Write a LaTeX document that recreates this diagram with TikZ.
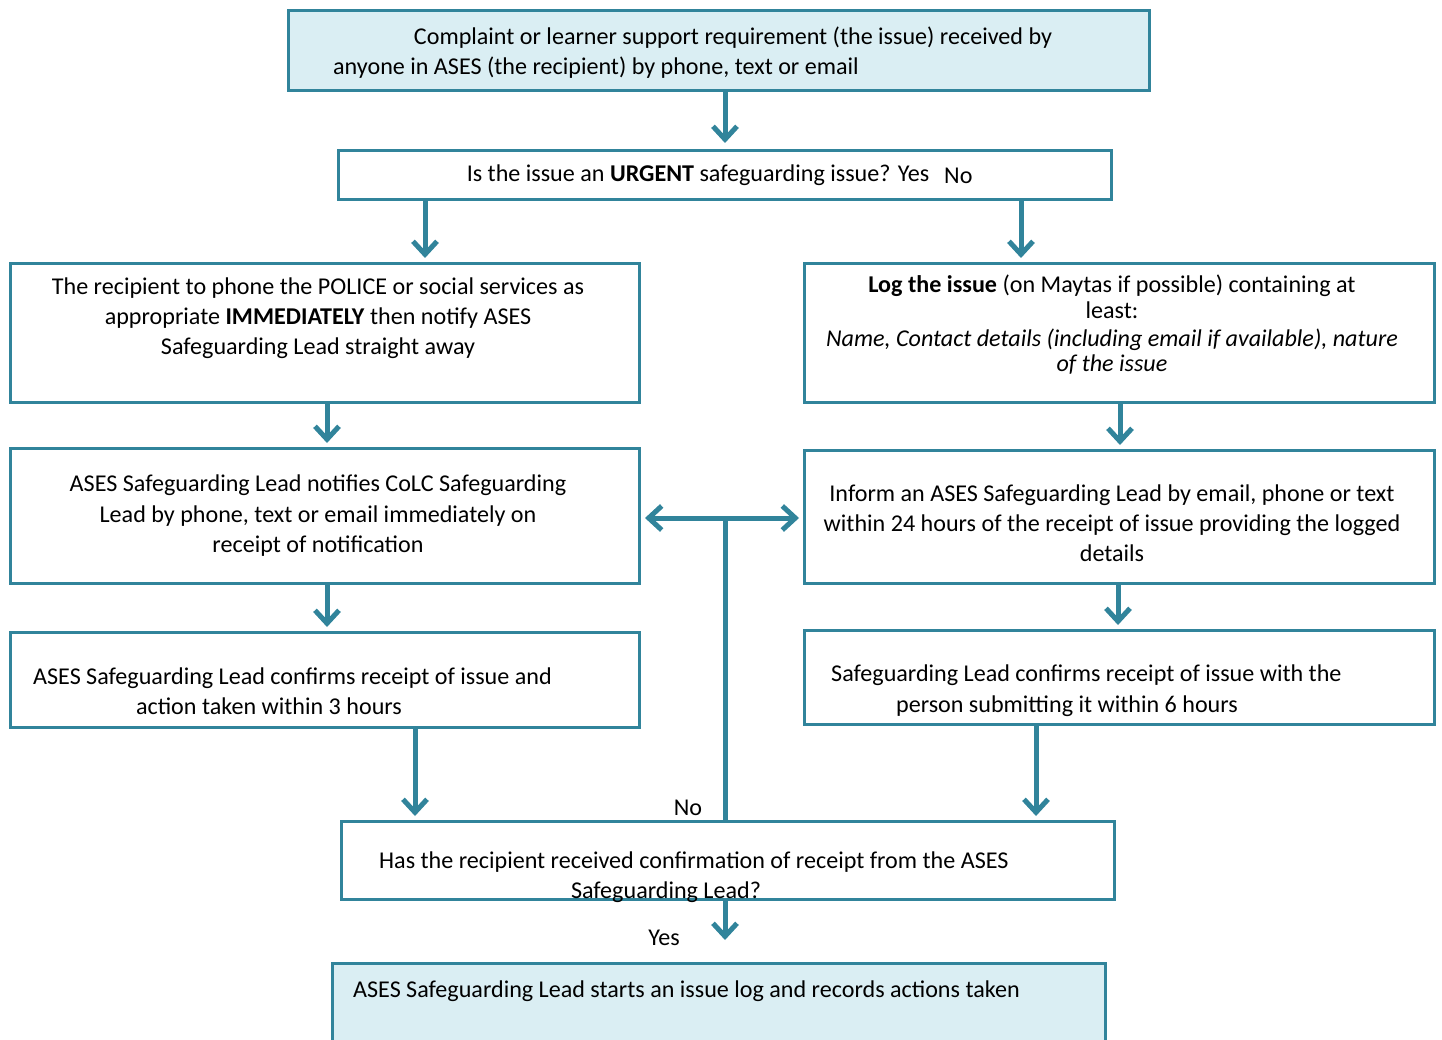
\documentclass[tikz,border=0pt]{standalone}
\usepackage{fontspec}
\setmainfont{Carlito}
\usetikzlibrary{arrows.meta}
\definecolor{bord}{HTML}{31849B}
\definecolor{lightfill}{HTML}{DAEEF3}
\tikzset{
  x=1pt, y=-1pt,
  box/.style={draw=bord, line width=3pt, inner sep=0pt, minimum width=#1},
  fbox/.style={box=#1, fill=lightfill},
  txt/.style={inner sep=0pt, anchor=base, font=\fontsize{24.1}{28}\selectfont},
  txtw/.style={txt, anchor=base west},
  arr/.style={draw=bord, line width=5pt, -{Straight Barb[length=13pt,width=24pt]}},
  arrb/.style={draw=bord, line width=5pt, {Straight Barb[length=13pt,width=24pt]}-{Straight Barb[length=13pt,width=24pt]}},
  ln/.style={draw=bord, line width=5pt},
}
\begin{document}
\begin{tikzpicture}
\useasboundingbox (0,0) rectangle (1442,1040);
% boxes
\node[fbox=861pt, minimum height=80pt] (top) at (719,50.5) {};
\node[box=773pt, minimum height=49pt] (dec) at (725,175) {};
\node[box=629pt, minimum height=139pt] (A) at (325,333) {};
\node[box=630pt, minimum height=139pt] (B) at (1119.5,333) {};
\node[box=629pt, minimum height=135pt] (C) at (325,516) {};
\node[box=630pt, minimum height=133pt] (D) at (1119.5,517) {};
\node[box=629pt, minimum height=95pt] (E) at (325,680) {};
\node[box=630pt, minimum height=94pt] (F) at (1119.5,677.5) {};
\node[box=773pt, minimum height=78pt] (dec2) at (728,860.5) {};
\node[fbox=773pt, minimum height=86.5pt] (bot) at (719,1006.75) {};
% texts
\node[txt] (t1) at (733,45) {Complaint or learner support requirement (the issue) received by};
\node[txtw] (t2) at (333,75) {anyone in ASES (the recipient) by phone, text or email};
\node[txt] (d1) at (698,182) {Is the issue an \textbf{URGENT} safeguarding issue? Yes};
\node[txtw] (d2) at (944,184) {No};
\node[txt] (a1) at (318,295) {The recipient to phone the POLICE or social services as};
\node[txt] (a2) at (318,325) {appropriate \textbf{IMMEDIATELY} then notify ASES};
\node[txt] (a3) at (318,355) {Safeguarding Lead straight away};
\node[txt] (b1) at (1112,293) {\textbf{Log the issue} (on Maytas if possible) containing at};
\node[txt] (b2) at (1112,319) {least:};
\node[txt] (b3) at (1112,346) {\itshape Name, Contact details (including email if available), nature};
\node[txt] (b4) at (1112,371) {\itshape of the issue};
\node[txt] (c1) at (318,491) {ASES Safeguarding Lead notifies CoLC Safeguarding};
\node[txt] (c2) at (318,522) {Lead by phone, text or email immediately on};
\node[txt] (c3) at (318,552) {receipt of notification};
\node[txt] (e1) at (1112,501) {Inform an ASES Safeguarding Lead by email, phone or text};
\node[txt] (e2) at (1112,531) {within 24 hours of the receipt of issue providing the logged};
\node[txt] (e3) at (1112,561) {details};
\node[txtw] (f1) at (33,684) {ASES Safeguarding Lead confirms receipt of issue and};
\node[txt] (f2) at (269,714) {action taken within 3 hours};
\node[txtw] (g1) at (831,681) {Safeguarding Lead confirms receipt of issue with the};
\node[txt] (g2) at (1067,712) {person submitting it within 6 hours};
\node[txtw] (h1) at (379,868) {Has the recipient received confirmation of receipt from the ASES};
\node[txt] (h2) at (666,898) {Safeguarding Lead?};
\node[txt] (no) at (688,815) {No};
\node[txt] (yes) at (664,945) {Yes};
\node[txtw] (k1) at (353,997) {ASES Safeguarding Lead starts an issue log and records actions taken};
% connectors
\coordinate (x725) at (725,0);
\coordinate (x425) at (425,0);
\coordinate (x1021) at (1021,0);
\coordinate (x327) at (327,0);
\coordinate (x1120) at (1120,0);
\coordinate (x1118) at (1118,0);
\coordinate (x415) at (415,0);
\coordinate (x1036) at (1036,0);
\coordinate (mid) at (725,518);
\draw[arr, shorten >=6pt] (top.south -| x725) -- (dec.north -| x725);
\draw[arr, shorten >=4pt] (dec.south -| x425) -- (A.north -| x425);
\draw[arr, shorten >=4pt] (dec.south -| x1021) -- (B.north -| x1021);
\draw[arr, shorten >=4pt] (A.south -| x327) -- (C.north -| x327);
\draw[arr, shorten >=4pt] (B.south -| x1120) -- (D.north -| x1120);
\draw[arr, shorten >=4pt] (C.south -| x327) -- (E.north -| x327);
\draw[arr, shorten >=4pt] (D.south -| x1118) -- (F.north -| x1118);
\draw[arr, shorten >=4pt] (E.south -| x415) -- (dec2.north -| x415);
\draw[arr, shorten >=4pt] (F.south -| x1036) -- (dec2.north -| x1036);
\draw[ln] (dec2.north -| x725) -- (mid);
\draw[arrb, shorten >=4pt, shorten <=4pt] (C.east |- mid) -- (D.west |- mid);
\draw[arr, shorten >=22pt] (dec2.south -| x725) -- (bot.north -| x725);
\end{tikzpicture}
\end{document}
